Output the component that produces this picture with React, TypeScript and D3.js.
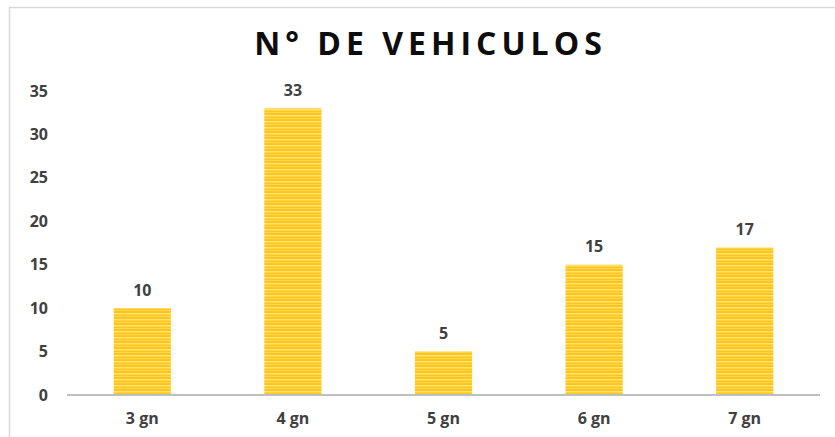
import React from "react";
import * as d3 from "d3";

const categories = ["3 gn", "4 gn", "5 gn", "6 gn", "7 gn"];
const values = [10, 33, 5, 15, 17];
const yTicks = [0, 5, 10, 15, 20, 25, 30, 35];
const title = "N° DE VEHICULOS";

export default function App() {
  const W = 835, H = 437;
  const x = d3.scaleBand<string>().domain(categories).range([67, 820]).paddingInner(0.62).paddingOuter(0.31);
  const y = d3.scaleLinear().domain([0, 35]).range([395, 91]);
  const font = "'Open Sans', 'Liberation Sans', sans-serif";
  return (
    <svg width={W} height={H} style={{ position: "absolute", left: 0, top: 0, background: "#fff" }} fontFamily={font}>
      <defs>
        <pattern id="stripes" patternUnits="userSpaceOnUse" width="10" height="6">
          <rect width="10" height="6" fill="#FFC61A" />
          <rect y="1" width="10" height="1.5" fill="#FFE27A" />
          <rect y="4" width="10" height="1" fill="#FFD64D" />
        </pattern>
      </defs>
      <rect x={0} y={0} width={W} height={H} fill="#fff" />
      <rect x={9.5} y={7.5} width={W} height={H} fill="none" stroke="#d9d9d9" strokeWidth={1.5} />
      <text x={430.5} y={55} textAnchor="middle" fontSize={32} fontWeight={700} letterSpacing={5} fill="#0d0d0d">{title}</text>
      {yTicks.map(t => (
        <text key={t} x={48} y={y(t)} dy="0.35em" textAnchor="end" fontSize={16} fontWeight={700} fill="#404040">{t}</text>
      ))}
      {categories.map((c, i) => (
        <g key={c}>
          <rect x={x(c)} y={y(values[i])} width={x.bandwidth()} height={y(0) - y(values[i])} fill="url(#stripes)" />
          <text x={(x(c) ?? 0) + x.bandwidth() / 2} y={y(values[i]) - 18} dy="0.35em" textAnchor="middle" fontSize={16} fontWeight={700} fill="#404040">{values[i]}</text>
          <text x={(x(c) ?? 0) + x.bandwidth() / 2} y={418} dy="0.35em" textAnchor="middle" fontSize={16} fontWeight={700} fill="#404040">{c}</text>
        </g>
      ))}
      <line x1={67} x2={820} y1={y(0)} y2={y(0)} stroke="#bfbfbf" strokeWidth={2} />
    </svg>
  );
}
